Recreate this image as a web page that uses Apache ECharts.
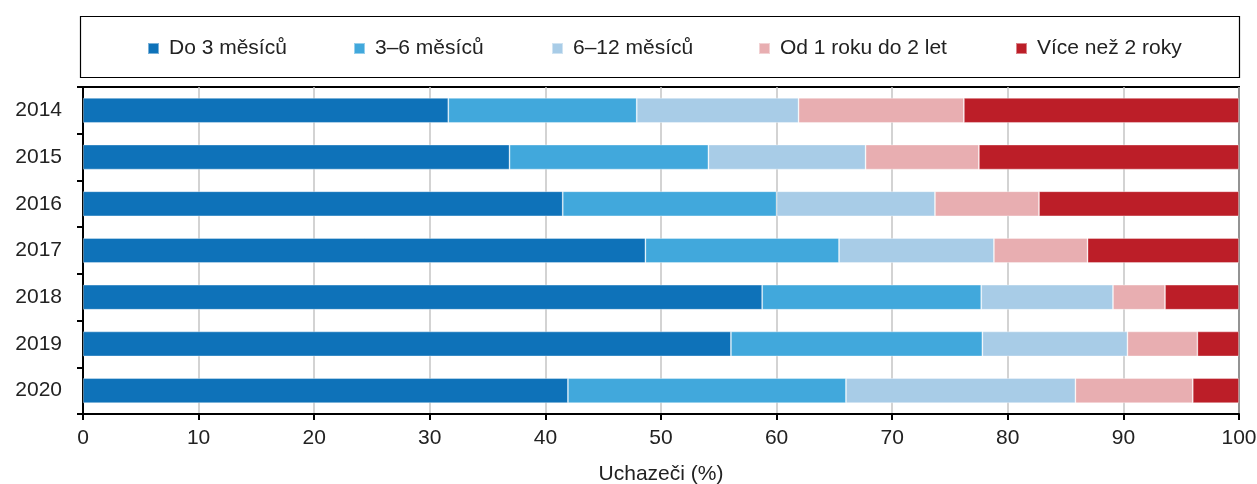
<!DOCTYPE html>
<html><head><meta charset="utf-8">
<script src="https://cdn.jsdelivr.net/npm/echarts@6/dist/echarts.min.js"></script>
<style>html,body{margin:0;padding:0;background:#fff}#c{width:1257px;height:484px}</style>
</head><body><div id="c"></div>
<script>
const years = ['2014','2015','2016','2017','2018','2019','2020'];
const seriesNames = ['Do 3 měsíců','3–6 měsíců','6–12 měsíců','Od 1 roku do 2 let','Více než 2 roky'];
const do3 = [31.6, 36.9, 41.5, 48.65, 58.75, 56.05, 41.95];
const m3to6 = [16.3, 17.2, 18.5, 16.75, 18.95, 21.75, 24.05];
const m6to12 = [14.0, 13.6, 13.7, 13.4, 11.4, 12.55, 19.85];
const y1to2 = [14.3, 9.8, 9.0, 8.1, 4.5, 6.05, 10.15];
const over2 = [23.8, 22.5, 17.3, 13.1, 6.4, 3.6, 4.0];
const colors = ['#0e72b9','#41a8dc','#a8cce7','#e8aeb1','#bc1e28'];
const values = [do3, m3to6, m6to12, y1to2, over2];
const legendLeft = [147, 353, 551, 758, 1015];
const font = 'Liberation Sans, Arial, sans-serif';
const chart = echarts.init(document.getElementById('c'));
chart.setOption({
  animation:false,
  textStyle:{fontFamily:font},
  graphic:[{type:'rect',shape:{x:80.5,y:16.5,width:1159,height:61},style:{fill:'none',stroke:'#000',lineWidth:1.2},silent:true}],
  legend: seriesNames.map((n,i)=>({
    left:legendLeft[i], top:38, itemWidth:11, itemHeight:11, icon:'rect', padding:0,
    textStyle:{fontSize:21, color:'#222', fontFamily:font, padding:[0,0,0,5]},
    data:[n]
  })),
  grid:{left:83,right:18,top:87,bottom:70,show:true,borderColor:'#000',borderWidth:2,backgroundColor:'transparent',outerBoundsMode:'none',containLabel:false},
  xAxis:{
    type:'value', min:0, max:100, interval:10,
    name:'Uchazeči (%)', nameLocation:'middle', nameGap:50,
    nameTextStyle:{fontSize:21,color:'#222',fontFamily:font},
    axisLine:{show:true,lineStyle:{color:'#000',width:2}},
    axisTick:{show:true,length:6,lineStyle:{color:'#000',width:2}},
    axisLabel:{fontSize:21,color:'#222',margin:14,fontFamily:font},
    splitLine:{show:true,lineStyle:{color:'#c4c4c4',width:1.5}}
  },
  yAxis:{
    type:'category', data:years, inverse:true,
    axisLine:{show:true,lineStyle:{color:'#000',width:2}},
    axisTick:{show:true,length:6,lineStyle:{color:'#000',width:2}},
    axisLabel:{fontSize:21,color:'#222',margin:21,fontFamily:font},
    splitLine:{show:false}
  },
  series: seriesNames.map((n,i)=>({
    name:n, type:'bar', stack:'all', data:values[i], barWidth:25,
    itemStyle:{color:colors[i], borderColor:'rgba(255,255,255,0.45)', borderWidth:0.8}
  }))
});
</script></body></html>
